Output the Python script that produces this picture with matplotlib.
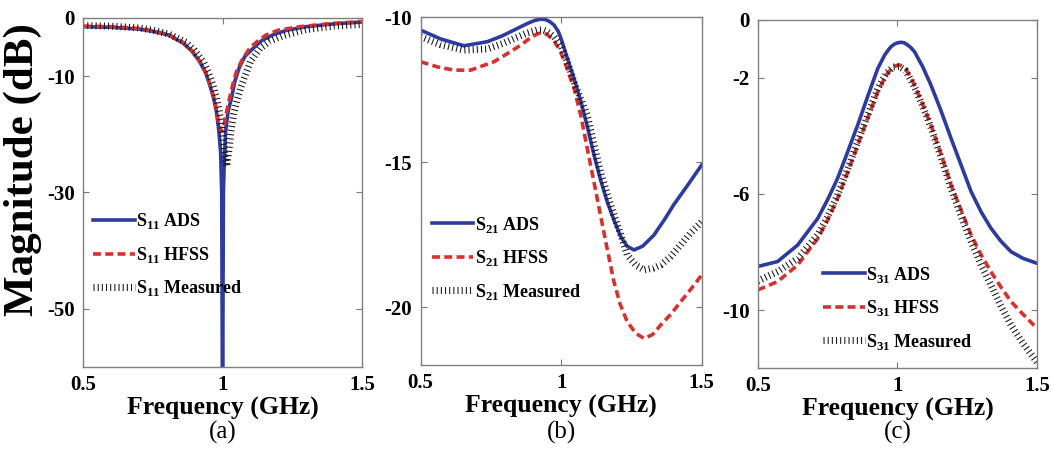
import matplotlib
matplotlib.use("Agg")
import matplotlib.pyplot as plt

plt.rcParams["font.family"] = ["Liberation Serif", "DejaVu Serif"]
plt.rcParams["font.weight"] = "bold"
plt.rcParams["mathtext.fontset"] = "custom"
plt.rcParams["mathtext.rm"] = "Liberation Serif:bold"
plt.rcParams["mathtext.bf"] = "Liberation Serif:bold"

# (a) S11
freq_a_ads = [0.5, 0.6, 0.7, 0.75, 0.805, 0.858, 0.89, 0.918, 0.94, 0.954, 0.968, 0.978,
              0.987, 0.993, 0.997, 1.0, 1.003, 1.006, 1.011, 1.02, 1.032, 1.044, 1.06,
              1.08, 1.11, 1.14, 1.18, 1.23, 1.3, 1.4, 1.5]
s11_ads = [-1.5, -1.6, -1.9, -2.3, -2.9, -4.3, -5.7, -7.5, -9.5, -11.5, -13.8, -16.1,
           -19.5, -23, -30, -70, -30, -25, -19.5, -16, -13.8, -10.9, -8.5,
           -6.6, -5.2, -3.9, -2.9, -2.1, -1.5, -1.0, -0.7]
freq_a_hfss = [0.5, 0.6, 0.7, 0.75, 0.805, 0.858, 0.89, 0.918, 0.94, 0.954, 0.968, 0.978,
               0.988, 0.996, 1.002, 1.01, 1.018, 1.026, 1.038, 1.05, 1.07, 1.097, 1.13,
               1.157, 1.2, 1.276, 1.38, 1.5]
s11_hfss = [-1.4, -1.5, -1.8, -2.2, -2.8, -4.2, -5.6, -7.4, -9.4, -11.3, -13.5, -15.8,
            -18.5, -19.5, -19.3, -17.2, -15.3, -13.6, -11.2, -9.2, -7.2, -5.2, -3.8,
            -2.9, -2.1, -1.5, -1.0, -0.6]
freq_a_meas = [0.5, 0.6, 0.7, 0.75, 0.81, 0.87, 0.9, 0.93, 0.95, 0.965, 0.978, 0.99,
               1.0, 1.008, 1.015, 1.022, 1.03, 1.04, 1.05, 1.065, 1.08, 1.1, 1.135,
               1.17, 1.22, 1.3, 1.4, 1.5]
s11_meas = [-1.3, -1.4, -1.7, -2.1, -2.8, -4.2, -5.6, -7.4, -9.4, -11.4, -13.6, -16.5,
            -20, -23.5, -25.5, -23, -19.5, -16.5, -14.5, -12, -10, -7.5, -5.2,
            -4.0, -3.0, -2.0, -1.4, -1.1]

# (b) S21
freq_b_ads = [0.5, 0.57, 0.654, 0.737, 0.79, 0.832, 0.88, 0.905, 0.927, 0.945, 0.96, 0.975,
              0.99, 1.0, 1.022, 1.045, 1.07, 1.095, 1.117, 1.14, 1.164, 1.19, 1.212, 1.235,
              1.259, 1.29, 1.33, 1.37, 1.4, 1.45, 1.5]
s21_ads = [-10.45, -10.75, -10.99, -10.85, -10.65, -10.45, -10.22, -10.12, -10.07, -10.09,
           -10.16, -10.28, -10.5, -10.75, -11.42, -12.1, -12.9, -13.85, -14.76, -15.6,
           -16.37, -17.05, -17.57, -17.9, -18.03, -17.9, -17.52, -16.95, -16.48, -15.8, -15.1]
freq_b_hfss = [0.5, 0.56, 0.619, 0.678, 0.761, 0.81, 0.856, 0.89, 0.915, 0.935, 0.95, 0.975,
               0.998, 1.02, 1.046, 1.07, 1.093, 1.117, 1.14, 1.164, 1.188, 1.21, 1.235,
               1.265, 1.295, 1.325, 1.354, 1.39, 1.425, 1.46, 1.5]
s21_hfss = [-11.54, -11.72, -11.83, -11.83, -11.54, -11.25, -10.97, -10.72, -10.58, -10.54,
            -10.6, -10.82, -11.2, -11.75, -12.46, -13.4, -14.53, -15.7, -16.83, -18.0,
            -19.13, -19.9, -20.5, -20.9, -21.08, -20.95, -20.62, -20.25, -19.82, -19.4, -18.9]
freq_b_meas = [0.5, 0.57, 0.654, 0.737, 0.79, 0.832, 0.88, 0.915, 0.935, 0.95, 0.975, 1.0,
               1.022, 1.05, 1.093, 1.117, 1.14, 1.164, 1.188, 1.212, 1.235, 1.265, 1.295,
               1.33, 1.354, 1.39, 1.425, 1.46, 1.5]
s21_meas = [-10.68, -10.95, -11.14, -11.1, -10.92, -10.74, -10.55, -10.45, -10.44, -10.5,
            -10.68, -11.0, -11.55, -12.35, -13.38, -14.4, -15.33, -16.1, -16.83, -17.5,
            -18.2, -18.55, -18.72, -18.65, -18.55, -18.25, -17.86, -17.45, -17.06]

# (c) S31
freq_c_ads = [0.5, 0.571, 0.643, 0.715, 0.75, 0.786, 0.82, 0.858, 0.895, 0.93, 0.955, 0.977,
              0.99, 1.0, 1.013, 1.025, 1.035, 1.048, 1.061, 1.09, 1.12, 1.155, 1.192, 1.23,
              1.264, 1.3, 1.335, 1.37, 1.407, 1.45, 1.5]
s31_ads = [-8.5, -8.33, -7.76, -6.84, -6.2, -5.46, -4.6, -3.62, -2.6, -1.67, -1.2, -0.92,
           -0.83, -0.79, -0.77, -0.79, -0.85, -0.95, -1.09, -1.6, -2.24, -3.1, -4.08, -5.05,
           -5.92, -6.62, -7.18, -7.62, -7.99, -8.22, -8.39]
freq_c_hfss = [0.5, 0.571, 0.643, 0.715, 0.75, 0.786, 0.82, 0.858, 0.895, 0.93, 0.96, 0.98,
               0.995, 1.007, 1.018, 1.03, 1.045, 1.061, 1.09, 1.12, 1.155, 1.192, 1.23,
               1.264, 1.3, 1.335, 1.37, 1.407, 1.45, 1.5]
s31_hfss = [-9.31, -9.02, -8.45, -7.53, -6.9, -6.15, -5.3, -4.31, -3.35, -2.47, -1.9, -1.67,
            -1.58, -1.55, -1.6, -1.7, -1.93, -2.24, -2.9, -3.62, -4.6, -5.69, -6.6,
            -7.41, -8.1, -8.68, -9.2, -9.71, -10.15, -10.63]
freq_c_meas = [0.5, 0.571, 0.643, 0.715, 0.75, 0.786, 0.82, 0.858, 0.895, 0.93, 0.96, 0.985,
               1.005, 1.03, 1.061, 1.09, 1.12, 1.155, 1.192, 1.23, 1.264, 1.3, 1.335,
               1.37, 1.407, 1.45, 1.5]
s31_meas = [-9.0, -8.68, -8.22, -7.41, -6.8, -6.03, -5.2, -4.2, -3.25, -2.36, -1.85, -1.62,
            -1.6, -1.75, -2.3, -2.95, -3.7, -4.7, -5.8, -6.8, -7.64, -8.45, -9.14,
            -9.85, -10.52, -11.15, -11.8]

BLUE = "#2D3A9E"
RED = "#D8302C"
BLACK = "#151515"

panels = [
    dict(rect=[0.0788, 0.204, 0.2647, 0.757], sub="11", tag="(a)",
         ads=(freq_a_ads, s11_ads), hfss=(freq_a_hfss, s11_hfss), meas=(freq_a_meas, s11_meas),
         ylim=(-60, 0), yticks=[0, -10, -30, -50], leg=(0.036, 0.321)),
    dict(rect=[0.3991, 0.208, 0.2666, 0.755], sub="21", tag="(b)",
         ads=(freq_b_ads, s21_ads), hfss=(freq_b_hfss, s21_hfss), meas=(freq_b_meas, s21_meas),
         ylim=(-22, -10), yticks=[-10, -15, -20], leg=(0.039, 0.307)),
    dict(rect=[0.7189, 0.2017, 0.265, 0.755], sub="31", tag="(c)",
         ads=(freq_c_ads, s31_ads), hfss=(freq_c_hfss, s31_hfss), meas=(freq_c_meas, s31_meas),
         ylim=(-12, 0), yticks=[0, -2, -6, -10], leg=(0.234, 0.172)),
]

fig = plt.figure(figsize=(10.54, 4.61), dpi=100)

for p in panels:
    ax = fig.add_axes(p["rect"])
    sub = p["sub"]
    ax.plot(*p["ads"], "-", color=BLUE, linewidth=2.6, label=rf"S$_{{{sub}}}$ ADS")
    ax.plot(*p["hfss"], "--", color=RED, linewidth=2.6, dashes=(2.2, 1.2),
            label=rf"S$_{{{sub}}}$ HFSS")
    meas, = ax.plot(*p["meas"], color=BLACK, linewidth=5, solid_capstyle="butt",
                    dash_capstyle="butt", label=rf"S$_{{{sub}}}$ Measured")
    meas.set_dashes((0.15, 0.45))

    ax.set_xlim(0.5, 1.5)
    ax.set_ylim(p["ylim"])
    ax.set_xticks([0.5, 1, 1.5])
    ax.set_xticklabels(["0.5", "1", "1.5"])
    ax.set_yticks(p["yticks"])
    ax.set_yticklabels([str(t) for t in p["yticks"]])
    ax.tick_params(direction="in", top=True, right=True, length=4, width=0.8,
                   color="#777777", labelsize=15, pad=6)
    for s in ax.spines.values():
        s.set_color("#808080")
        s.set_linewidth(1.0)
    ax.set_xlabel("Frequency (GHz)", fontsize=18.5, fontweight="bold", labelpad=1)

    ax.legend(loc="center left", bbox_to_anchor=p["leg"], frameon=False,
              fontsize=13, handlelength=2.3, handletextpad=0.1,
              labelspacing=0.75, borderpad=0, borderaxespad=0)

    x0, _, w, _ = p["rect"]
    fig.text(x0 + w / 2, 0.063, p["tag"], ha="center", va="center",
             fontsize=18, fontweight="normal")

fig.text(0.022, 0.633, "Magnitude (dB)", rotation=90, ha="center", va="center",
         fontsize=31, fontweight="bold")

fig.savefig("out.png", dpi=100)
